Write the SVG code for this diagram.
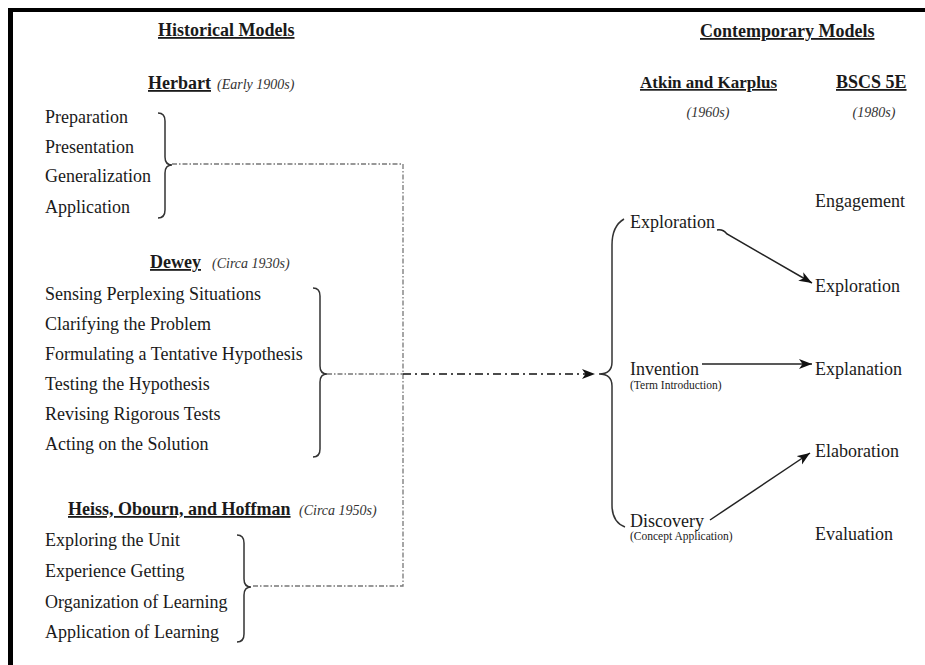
<svg xmlns="http://www.w3.org/2000/svg" width="925" height="665" viewBox="0 0 925 665">
<style>
  text { font-family: "Liberation Serif", "Times New Roman", serif; fill: #1a1a1a; }
  .hd { font-size: 18px; font-weight: bold; text-decoration: underline; }
  .it { font-size: 14px; font-style: italic; fill: #333; }
  .item { font-size: 18px; }
  .sub { font-size: 11.5px; }
  .brace { fill: none; stroke: #333; stroke-width: 1.5; }
  .dd { fill: none; stroke: #777; stroke-width: 1.3; stroke-dasharray: 5 2 1.5 2; }
  .dd2 { fill: none; stroke: #111; stroke-width: 1.5; stroke-dasharray: 8 4 2 4; }
  .arr { fill: none; stroke: #222; stroke-width: 1.5; }
</style>
<defs>
  <marker id="ah" markerUnits="userSpaceOnUse" markerWidth="14" markerHeight="12" refX="13" refY="5" orient="auto">
    <path d="M0,0 L13,5 L0,10 L3.5,5 Z" fill="#111"/>
  </marker>
</defs>
<rect x="0" y="0" width="925" height="665" fill="#fff"/>
<g id="frame">
  <rect x="8" y="8" width="917" height="4" fill="#000"/>
  <rect x="8" y="8" width="5" height="657" fill="#000"/>
</g>

<g id="historical-title"><text class="hd" x="158" y="36">Historical Models</text></g>
<g id="contemporary-title"><text class="hd" x="700" y="37">Contemporary Models</text></g>

<g id="herbart">
  <text class="hd" x="148" y="89">Herbart</text>
  <text class="it" x="217" y="89">(Early 1900s)</text>
  <text class="item" x="45" y="123">Preparation</text>
  <text class="item" x="45" y="153">Presentation</text>
  <text class="item" x="45" y="182">Generalization</text>
  <text class="item" x="45" y="213">Application</text>
  <path class="brace" d="M158,113 Q165,113 165,121 L165,157 Q165,165 172,165 Q165,165 165,173 L165,210 Q165,218 158,218"/>
</g>

<g id="dewey">
  <text class="hd" x="150" y="268">Dewey</text>
  <text class="it" x="212" y="268">(Circa 1930s)</text>
  <text class="item" x="45" y="300">Sensing Perplexing Situations</text>
  <text class="item" x="45" y="330">Clarifying the Problem</text>
  <text class="item" x="45" y="360">Formulating a Tentative Hypothesis</text>
  <text class="item" x="45" y="390">Testing the Hypothesis</text>
  <text class="item" x="45" y="420">Revising Rigorous Tests</text>
  <text class="item" x="45" y="450">Acting on the Solution</text>
  <path class="brace" d="M313,288 Q320,288 320,296 L320,366 Q320,374 327,374 Q320,374 320,382 L320,449 Q320,457 313,457"/>
</g>

<g id="heiss">
  <text class="hd" x="68" y="515">Heiss, Obourn, and Hoffman</text>
  <text class="it" x="299" y="515">(Circa 1950s)</text>
  <text class="item" x="45" y="546">Exploring the Unit</text>
  <text class="item" x="45" y="577">Experience Getting</text>
  <text class="item" x="45" y="608">Organization of Learning</text>
  <text class="item" x="45" y="638">Application of Learning</text>
  <path class="brace" d="M237,535 Q244,535 244,543 L244,579 Q244,587 251,587 Q244,587 244,595 L244,634 Q244,642 237,642"/>
</g>

<g id="atkin-karplus">
  <text class="hd" x="640" y="88" style="font-size:17px">Atkin and Karplus</text>
  <text class="it" x="708" y="117" text-anchor="middle">(1960s)</text>
  <path class="brace" d="M624,219 Q612,226 612,245 L612,362 Q612,374 599,374 Q612,374 612,386 L612,505 Q612,522 625,527"/>
</g>
<g id="ak-exploration"><text class="item" x="630" y="228">Exploration</text></g>
<g id="ak-invention">
  <text class="item" x="630" y="375">Invention</text>
  <text class="sub" x="630" y="389">(Term Introduction)</text>
</g>
<g id="ak-discovery">
  <text class="item" x="630" y="527">Discovery</text>
  <text class="sub" x="630" y="540">(Concept Application)</text>
</g>

<g id="bscs-5e">
  <text class="hd" x="836" y="88">BSCS 5E</text>
  <text class="it" x="874" y="117" text-anchor="middle">(1980s)</text>
</g>
<g id="engagement"><text class="item" x="815" y="207">Engagement</text></g>
<g id="exploration"><text class="item" x="815" y="292">Exploration</text></g>
<g id="explanation"><text class="item" x="815" y="375">Explanation</text></g>
<g id="elaboration"><text class="item" x="815" y="457">Elaboration</text></g>
<g id="evaluation"><text class="item" x="815" y="540">Evaluation</text></g>

<g id="connectors">
  <path class="dd" d="M172,164 H403 V586 H251"/>
  <path class="dd" d="M327,374 H403"/>
  <path class="dd2" d="M403,374 H595" marker-end="url(#ah)"/>
  <path class="arr" d="M717,230 Q723,229 727,234 L812,283" marker-end="url(#ah)"/>
  <path class="arr" d="M702,364 L812,364" marker-end="url(#ah)"/>
  <path class="arr" d="M710,520 L810,453" marker-end="url(#ah)"/>
</g>
</svg>
